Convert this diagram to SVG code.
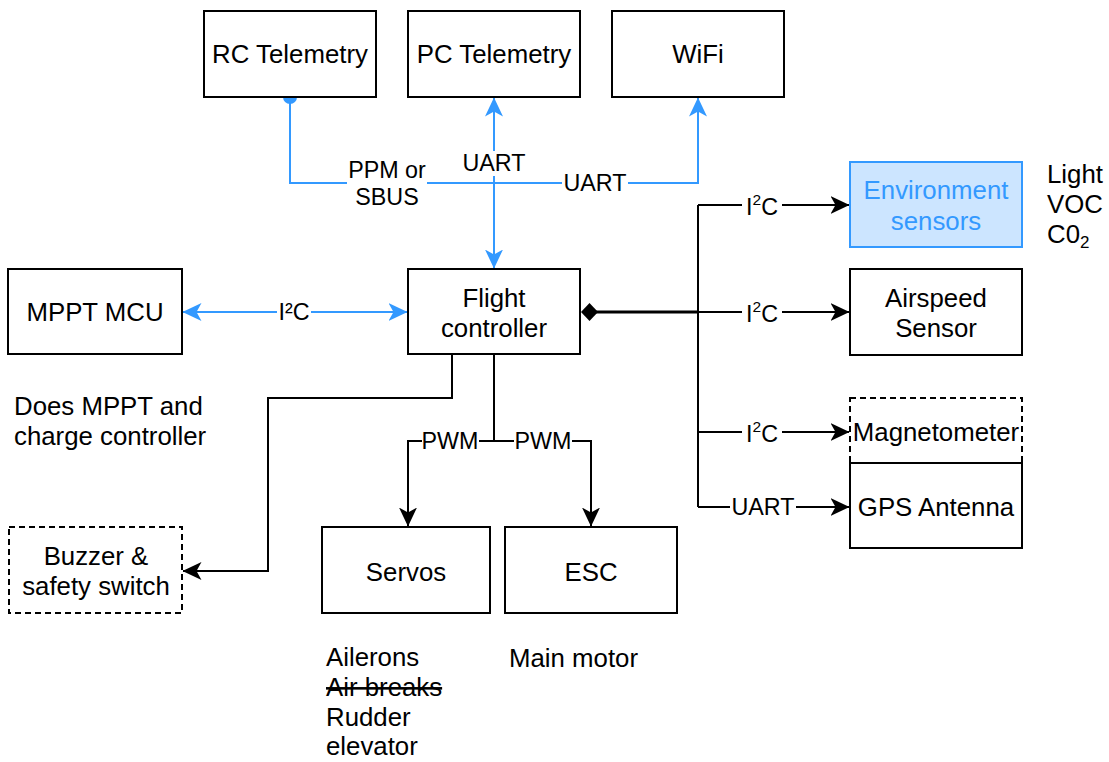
<svg xmlns="http://www.w3.org/2000/svg" width="1109" height="762" viewBox="0 0 1109 762">
<style>
text{font-family:"Liberation Sans",Arial,sans-serif;fill:#000}
.box{fill:#fff;stroke:#000;stroke-width:2}
.dash{fill:#fff;stroke:#000;stroke-width:2;stroke-dasharray:6 4}
.env{fill:#cce5ff;stroke:#3399ff;stroke-width:2}
.t{font-size:25.8px;text-anchor:middle;dominant-baseline:central}
.tb{fill:#3399ff}
.a{font-size:25.8px;dominant-baseline:central}
.lbl{font-size:23.3px;text-anchor:middle;dominant-baseline:central}
.bg{fill:#fff}
.e{fill:none;stroke:#000;stroke-width:2}
.eb{fill:none;stroke:#3399ff;stroke-width:2}
</style>
<defs>
<marker id="arr" viewBox="0 0 19 18" refX="18.5" refY="9" markerWidth="19" markerHeight="18" markerUnits="userSpaceOnUse" orient="auto-start-reverse"><path d="M0,0 L19,9 L0,18 L5,9 z" fill="#000"/></marker>
<marker id="arrb" viewBox="0 0 19 18" refX="18.5" refY="9" markerWidth="19" markerHeight="18" markerUnits="userSpaceOnUse" orient="auto-start-reverse"><path d="M0,0 L19,9 L0,18 L5,9 z" fill="#3399ff"/></marker>
</defs>

<g id="connectors">
<path class="eb" d="M290,99 V183 H698 V98" marker-end="url(#arrb)"/>
<circle cx="290" cy="97" r="7" fill="#3399ff"/>
<path class="eb" d="M494,98 V268" marker-start="url(#arrb)" marker-end="url(#arrb)"/>
<path class="eb" d="M183,312 H407" marker-start="url(#arrb)" marker-end="url(#arrb)"/>
<path d="M596,312 H698" fill="none" stroke="#000" stroke-width="3"/>
<path class="e" d="M698,312 H849" marker-end="url(#arr)"/>
<path class="e" d="M698,205 V507"/>
<path class="e" d="M698,205 H849" marker-end="url(#arr)"/>
<path class="e" d="M698,432 H849" marker-end="url(#arr)"/>
<path class="e" d="M698,507 H849" marker-end="url(#arr)"/>
<path d="M581,312 L589.5,303 L598,312 L589.5,321 Z" fill="#000"/>
<path class="e" d="M452,355 V398 H268 V571 H183" marker-end="url(#arr)"/>
<path class="e" d="M494,355 V441"/>
<path class="e" d="M494,441 H408 V526" marker-end="url(#arr)"/>
<path class="e" d="M494,441 H591 V526" marker-end="url(#arr)"/>
<rect class="bg" x="347" y="157" width="80" height="54"/>
<text class="lbl" x="387" y="170">PPM or</text>
<text class="lbl" x="387" y="197">SBUS</text>
<rect class="bg" x="461" y="151" width="66" height="25"/>
<text class="lbl" x="494" y="163">UART</text>
<rect class="bg" x="562" y="171" width="66" height="25"/>
<text class="lbl" x="595" y="183">UART</text>
<rect class="bg" x="277" y="300" width="34" height="25"/>
<text class="lbl" x="294" y="312">I²C</text>
<rect class="bg" x="742" y="193" width="40" height="25"/>
<text class="lbl" x="762" y="207">I<tspan font-size="15.5" dy="-8">2</tspan><tspan dy="8">C</tspan></text>
<rect class="bg" x="742" y="300" width="40" height="25"/>
<text class="lbl" x="762" y="314">I<tspan font-size="15.5" dy="-8">2</tspan><tspan dy="8">C</tspan></text>
<rect class="bg" x="742" y="420" width="40" height="25"/>
<text class="lbl" x="762" y="434">I<tspan font-size="15.5" dy="-8">2</tspan><tspan dy="8">C</tspan></text>
<rect class="bg" x="730" y="495" width="66" height="25"/>
<text class="lbl" x="763" y="507">UART</text>
<rect class="bg" x="422" y="429" width="57" height="25"/>
<text class="lbl" x="450" y="441">PWM</text>
<rect class="bg" x="514" y="429" width="58" height="25"/>
<text class="lbl" x="543" y="441">PWM</text>
</g>

<g id="rc-telemetry"><rect class="box" x="204" y="11" width="172" height="86"/><text class="t" x="290" y="54">RC Telemetry</text></g>
<g id="pc-telemetry"><rect class="box" x="408" y="11" width="172" height="86"/><text class="t" x="494" y="54">PC Telemetry</text></g>
<g id="wifi"><rect class="box" x="612" y="11" width="172" height="86"/><text class="t" x="698" y="54">WiFi</text></g>
<g id="env-sensors"><rect class="env" x="850" y="162" width="172" height="85"/><text class="t tb" x="936" y="190">Environment</text><text class="t tb" x="936" y="221">sensors</text></g>
<g id="airspeed"><rect class="box" x="850" y="269" width="172" height="86"/><text class="t" x="936" y="298">Airspeed</text><text class="t" x="936" y="328">Sensor</text></g>
<g id="magnetometer"><rect class="dash" x="850" y="398" width="172" height="65"/><text class="t" x="936" y="432">Magnetometer</text></g>
<g id="gps"><rect class="box" x="850" y="463" width="172" height="85"/><text class="t" x="936" y="507">GPS Antenna</text></g>
<g id="flight-controller"><rect class="box" x="408" y="269" width="172" height="85"/><text class="t" x="494" y="298">Flight</text><text class="t" x="494" y="328">controller</text></g>
<g id="mppt-mcu"><rect class="box" x="8" y="269" width="174" height="85"/><text class="t" x="95" y="312">MPPT MCU</text></g>
<g id="buzzer"><rect class="dash" x="9" y="527" width="173" height="86"/><text class="t" x="96" y="556">Buzzer &amp;</text><text class="t" x="96" y="586">safety switch</text></g>
<g id="servos"><rect class="box" x="322" y="527" width="168" height="86"/><text class="t" x="406" y="572">Servos</text></g>
<g id="esc"><rect class="box" x="505" y="527" width="172" height="86"/><text class="t" x="591" y="572">ESC</text></g>

<g id="notes">
<text class="a" x="1047" y="174">Light</text>
<text class="a" x="1047" y="204">VOC</text>
<text class="a" x="1047" y="234">C0<tspan font-size="17" dy="8">2</tspan></text>
<text class="a" x="14" y="406">Does MPPT and</text>
<text class="a" x="14" y="436">charge controller</text>
<text class="a" x="326" y="657">Ailerons</text>
<text class="a" x="326" y="687" text-decoration="line-through">Air breaks</text>
<text class="a" x="326" y="717">Rudder</text>
<text class="a" x="326" y="746">elevator</text>
<text class="a" x="509" y="658">Main motor</text>
</g>
</svg>
